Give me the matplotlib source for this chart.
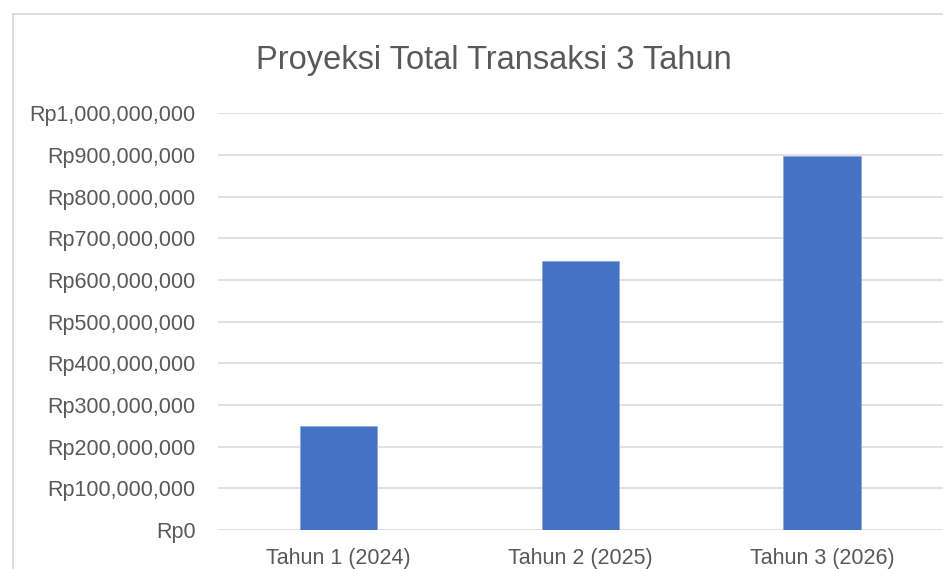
import matplotlib
matplotlib.use("Agg")
import matplotlib.pyplot as plt
from matplotlib.lines import Line2D
from matplotlib.ticker import FuncFormatter

categories = ["Tahun 1 (2024)", "Tahun 2 (2025)", "Tahun 3 (2026)"]
totals = [250_000_000, 645_000_000, 897_000_000]
yticks = list(range(0, 1_000_000_001, 100_000_000))

plt.rcParams["font.family"] = ["Liberation Sans", "DejaVu Sans"]
grey = "#595959"

fig = plt.figure(figsize=(9.43, 5.69), dpi=100)
ax = fig.add_axes([0.231, 0.0685, 0.769, 0.7325])

ax.bar(range(len(categories)), totals, width=0.32, color="#4472C4",
       edgecolor="#8faadc", linewidth=0.6, zorder=3)
ax.set_xlim(-0.5, 2.5)
ax.set_ylim(0, 1_000_000_000)
ax.set_yticks(yticks)
ax.yaxis.set_major_formatter(FuncFormatter(lambda v, _: f"Rp{int(v):,}"))
ax.set_xticks(range(len(categories)))
ax.set_xticklabels(categories)
ax.grid(axis="y", color="#d9d9d9", linewidth=1.1, zorder=0)
for s in ax.spines.values():
    s.set_visible(False)
ax.tick_params(axis="y", length=0, pad=16, labelsize=15.5, labelcolor=grey)
ax.tick_params(axis="x", length=0, pad=13, labelsize=15.5, labelcolor=grey)

fig.text(0.524, 0.893, "Proyeksi Total Transaksi 3 Tahun", ha="center", va="center",
         fontsize=23.5, color=grey)

# chart border
fig.add_artist(Line2D([0.0133, 0.0133], [0, 0.975], color="#d9d9d9", linewidth=1.2))
fig.add_artist(Line2D([0.0133, 1], [0.975, 0.975], color="#d9d9d9", linewidth=1.2))

fig.savefig("out.png", dpi=100)
